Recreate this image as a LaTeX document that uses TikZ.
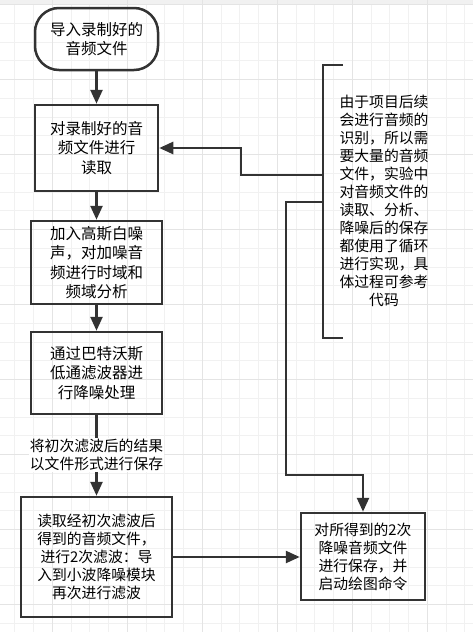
\documentclass[tikz,border=0pt]{standalone}
\usepackage{fontspec}
\setmainfont{Noto Sans CJK SC}
\usetikzlibrary{arrows.meta}
\definecolor{linegray}{HTML}{333333}
\definecolor{gridminor}{HTML}{F1F1F1}
\definecolor{gridmajor}{HTML}{E4E4E4}
\begin{document}
\begin{tikzpicture}[x=1pt,y=-1pt,
  box/.style={draw=linegray,line width=2.5pt,align=center,inner sep=0pt,
    font=\fontsize{15.5}{19.5}\selectfont},
  smalltext/.style={align=center,inner sep=1pt,font=\fontsize{14.8}{18}\selectfont},
  flow/.style={draw=linegray,line width=2.5pt,-{Triangle[length=14pt,width=12pt]}},
  link/.style={draw=linegray,line width=2.5pt}]
  \useasboundingbox (0,0) rectangle (473,632);
  % background grid
  \fill[gridminor] (0,0) rectangle (473,3.5);
  \foreach \x in {14.8,33.55,...,473}
    \draw[gridminor,line width=1pt] (\x,0) -- (\x,632);
  \foreach \y in {4.7,23.45,...,632}
    \draw[gridminor,line width=1pt] (0,\y) -- (473,\y);
  \foreach \x in {52.3,127.3,...,473}
    \draw[gridmajor,line width=1pt] (\x,0) -- (\x,632);
  \foreach \y in {4.7,79.7,...,632}
    \draw[gridmajor,line width=1pt] (0,\y) -- (473,\y);
  % main steps
  \node[box,rounded corners=24pt,minimum width=123pt,minimum height=62pt] (start) at (96.5,39)
    {导入录制好的\\音频文件};
  \node[box,minimum width=123pt,minimum height=86pt] (read) at (96.5,148)
    {对录制好的音\\频文件进行\\读取};
  \node[box,minimum width=131pt,minimum height=83pt] (noise) at (96.5,262.5)
    {加入高斯白噪\\声，对加噪音\\频进行时域和\\频域分析};
  \node[box,minimum width=131pt,minimum height=82pt] (filter) at (96.5,373)
    {通过巴特沃斯\\低通滤波器进\\行降噪处理};
  \node[box,smalltext,inner sep=0pt,minimum width=151pt,minimum height=120pt] (wavelet) at (96.5,557)
    {读取经初次滤波后\\得到的音频文件，\\进行2次滤波：导\\入到小波降噪模块\\再次进行滤波};
  \node[box,smalltext,inner sep=0pt,minimum width=124pt,minimum height=87pt] (save) at (363,556.5)
    {对所得到的2次\\降噪音频文件\\进行保存，并\\启动绘图命令};
  % note with bracket
  \node[smalltext] (note) at (384,201)
    {由于项目后续\\会进行音频的\\识别，所以需\\要大量的音频\\文件，实验中\\对音频文件的\\读取、分析、\\降噪后的保存\\都使用了循环\\进行实现，具\\体过程可参考\\代码};
  \draw[link] (343,65) -- (323,65) -- (323,338) -- (343,338);
  \coordinate (nt1) at (323,175);
  \coordinate (nt2) at (323,202);
  % connectors
  \draw[flow] (start) -- (read);
  \draw[flow] (read) -- (noise);
  \draw[flow] (noise) -- (filter);
  \draw[flow] (filter) -- (wavelet);
  \node[smalltext,fill=white] (keep) at (96.5,455)
    {将初次滤波后的结果\\以文件形式进行保存};
  \draw[flow] (wavelet.east) -- (wavelet.east -| save.west);
  \draw[flow] (nt1) -- (241,175) -- (241,148) -- (read.east);
  \draw[flow] (nt2) -- (286,202) -- (286,475) -- (363,475) -- (save.north);
\end{tikzpicture}
\end{document}
